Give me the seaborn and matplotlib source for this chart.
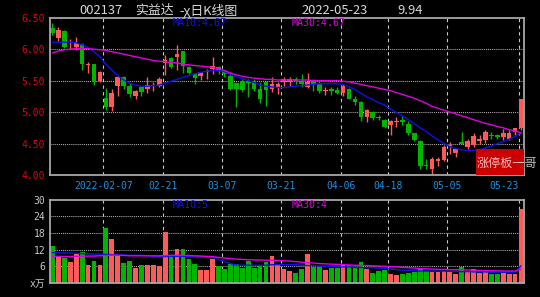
import numpy as np
import pandas as pd
import matplotlib
matplotlib.use('Agg')
import matplotlib.pyplot as plt
import seaborn as sns
from matplotlib.patches import Rectangle

# ---------------- data ----------------
opens = [6.34, 6.17, 6.29, 6.06, 6.04, 6.08, 5.75, 5.76, 5.49, 5.22, 5.08, 5.41, 5.56, 5.42, 5.25, 5.40,
         5.37, 5.42, 5.42, 5.78, 5.86, 5.87, 5.97, 5.72, 5.60, 5.57, 5.64, 5.69, 5.72, 5.63, 5.58, 5.46,
         5.50, 5.50, 5.50, 5.37, 5.48, 5.37, 5.39, 5.48, 5.48, 5.52, 5.50, 5.40, 5.51, 5.45, 5.34, 5.37,
         5.35, 5.30, 5.37, 5.21, 5.16, 4.92, 5.00, 4.92, 4.88, 4.79, 4.85, 4.87, 4.81, 4.66, 4.54, 4.16,
         4.10, 4.23, 4.24, 4.46, 4.35, 4.52, 4.44, 4.47, 4.54, 4.55, 4.64, 4.64, 4.61, 4.58, 4.68, 4.75]
closes = [6.26, 6.30, 6.04, 6.07, 6.10, 5.76, 5.76, 5.48, 5.64, 5.08, 5.30, 5.56, 5.42, 5.28, 5.33, 5.32,
          5.43, 5.43, 5.53, 5.83, 5.72, 5.93, 5.74, 5.62, 5.54, 5.63, 5.66, 5.74, 5.67, 5.61, 5.37, 5.37,
          5.35, 5.46, 5.37, 5.21, 5.35, 5.45, 5.45, 5.53, 5.53, 5.49, 5.45, 5.48, 5.45, 5.33, 5.35, 5.33,
          5.30, 5.42, 5.21, 5.16, 4.92, 5.03, 4.91, 4.91, 4.77, 4.86, 4.86, 4.84, 4.66, 4.55, 4.15, 4.15,
          4.26, 4.26, 4.44, 4.47, 4.42, 4.50, 4.54, 4.62, 4.57, 4.68, 4.62, 4.61, 4.67, 4.66, 4.74, 5.21]
highs = [6.41, 6.36, 6.30, 6.16, 6.19, 6.09, 5.79, 5.77, 5.66, 5.38, 5.37, 5.57, 5.57, 5.46, 5.35, 5.42,
         5.55, 5.48, 5.55, 5.91, 5.88, 6.06, 5.97, 5.73, 5.61, 5.64, 5.68, 5.88, 5.73, 5.65, 5.61, 5.48,
         5.53, 5.53, 5.53, 5.48, 5.50, 5.56, 5.48, 5.56, 5.56, 5.56, 5.60, 5.62, 5.53, 5.50, 5.40, 5.40,
         5.40, 5.45, 5.39, 5.25, 5.17, 5.05, 5.02, 4.96, 4.89, 4.87, 4.92, 4.93, 4.86, 4.67, 4.55, 4.26,
         4.29, 4.29, 4.47, 4.52, 4.43, 4.69, 4.57, 4.66, 4.63, 4.71, 4.68, 4.65, 4.73, 4.71, 4.75, 5.21]
lows = [6.23, 6.13, 6.02, 6.01, 5.98, 5.67, 5.62, 5.43, 5.48, 5.03, 5.02, 5.25, 5.37, 5.24, 5.20, 5.25,
        5.30, 5.34, 5.40, 5.59, 5.70, 5.67, 5.62, 5.60, 5.45, 5.51, 5.52, 5.60, 5.60, 5.55, 5.35, 5.08,
        5.32, 5.24, 5.33, 5.14, 5.09, 5.32, 5.29, 5.42, 5.42, 5.45, 5.40, 5.39, 5.33, 5.30, 5.27, 5.27,
        5.28, 5.25, 5.20, 5.11, 4.86, 4.84, 4.87, 4.88, 4.75, 4.64, 4.77, 4.79, 4.63, 4.54, 4.10, 4.10,
        4.02, 4.15, 4.23, 4.34, 4.28, 4.49, 4.41, 4.44, 4.50, 4.51, 4.58, 4.58, 4.56, 4.55, 4.64, 4.72]
ma10 = [6.11, 6.11, 6.11, 6.11, 6.10, 6.07, 6.02, 5.96, 5.88, 5.76, 5.67, 5.58, 5.51, 5.46, 5.43, 5.41,
        5.41, 5.42, 5.43, 5.46, 5.49, 5.52, 5.55, 5.58, 5.61, 5.63, 5.65, 5.66, 5.66, 5.64, 5.60, 5.56,
        5.53, 5.50, 5.47, 5.43, 5.41, 5.40, 5.39, 5.39, 5.40, 5.41, 5.42, 5.43, 5.44, 5.45, 5.45, 5.45,
        5.45, 5.44, 5.40, 5.36, 5.30, 5.24, 5.20, 5.15, 5.11, 5.05, 4.99, 4.94, 4.88, 4.82, 4.75, 4.69,
        4.62, 4.56, 4.50, 4.45, 4.42, 4.40, 4.39, 4.39, 4.40, 4.43, 4.46, 4.50, 4.53, 4.57, 4.61, 4.67]
ma30 = [5.94, 5.97, 5.99, 6.00, 6.01, 6.01, 6.01, 6.00, 5.99, 5.98, 5.96, 5.94, 5.92, 5.90, 5.88, 5.86,
        5.84, 5.82, 5.81, 5.80, 5.79, 5.78, 5.76, 5.75, 5.74, 5.73, 5.72, 5.71, 5.69, 5.66, 5.62, 5.59,
        5.57, 5.55, 5.54, 5.53, 5.52, 5.52, 5.51, 5.51, 5.51, 5.51, 5.51, 5.51, 5.50, 5.50, 5.50, 5.50,
        5.50, 5.49, 5.48, 5.46, 5.44, 5.42, 5.40, 5.38, 5.36, 5.34, 5.31, 5.28, 5.25, 5.22, 5.18, 5.14,
        5.09, 5.06, 5.03, 5.00, 4.97, 4.94, 4.91, 4.88, 4.85, 4.82, 4.80, 4.77, 4.75, 4.72, 4.70, 4.67]
volumes = [13.5, 9.6, 9.1, 7.6, 10.3, 11.2, 6.4, 7.8, 6.4, 19.9, 15.7, 9.6, 7.2, 7.8, 5.4, 6.4,
           6.6, 6.4, 6.1, 18.4, 9.6, 12.4, 12.1, 8.5, 6.7, 4.6, 4.6, 8.8, 6.0, 5.2, 6.7, 7.0,
           5.5, 7.9, 5.5, 6.4, 7.6, 9.6, 6.4, 4.9, 4.2, 3.6, 5.2, 10.3, 5.8, 6.0, 4.6, 5.5,
           5.5, 6.6, 6.4, 5.5, 7.6, 5.2, 3.6, 4.3, 4.6, 3.4, 3.0, 3.4, 3.6, 4.0, 5.5, 4.5,
           4.0, 4.0, 4.3, 4.0, 3.4, 5.8, 4.0, 5.2, 3.6, 4.0, 3.1, 3.1, 3.6, 3.4, 3.4, 26.8]
vol_ma10 = [10.9, 10.9, 10.8, 10.8, 10.7, 10.6, 10.5, 10.4, 10.4, 10.3, 10.2, 10.1, 10.1, 10.0, 10.0, 10.0,
            9.8, 9.6, 9.5, 9.5, 9.6, 9.6, 9.6, 9.5, 9.4, 9.4, 9.4, 9.3, 8.5, 7.7, 7.0, 6.5,
            6.4, 6.4, 6.4, 6.4, 6.4, 6.6, 6.6, 6.6, 6.6, 6.6, 6.4, 6.3, 6.2, 6.1, 6.0, 5.9,
            5.8, 5.8, 5.8, 5.7, 5.6, 5.5, 5.5, 5.4, 5.2, 5.0, 4.8, 4.6, 4.5, 4.4, 4.3, 4.3,
            4.3, 4.3, 4.3, 4.2, 4.2, 4.1, 4.1, 4.0, 4.0, 4.0, 3.9, 3.9, 3.9, 3.9, 3.9, 6.2]
vol_ma30 = [9.6, 9.6, 9.5, 9.5, 9.6, 9.6, 9.7, 9.7, 9.8, 9.9, 10.0, 10.0, 9.9, 9.8, 9.8, 9.8,
            9.8, 9.8, 9.8, 9.9, 10.0, 10.0, 10.0, 9.9, 9.8, 9.7, 9.6, 9.5, 9.2, 9.0, 8.8, 8.6,
            8.5, 8.4, 8.3, 8.3, 8.2, 8.2, 8.1, 8.0, 7.9, 7.7, 7.5, 7.3, 7.2, 7.0, 6.9, 6.8,
            6.7, 6.6, 6.5, 6.4, 6.3, 6.3, 6.2, 6.1, 6.0, 5.9, 5.8, 5.6, 5.5, 5.4, 5.2, 5.1,
            5.0, 4.9, 4.9, 4.8, 4.8, 4.7, 4.7, 4.6, 4.5, 4.5, 4.4, 4.4, 4.3, 4.3, 4.3, 5.0]
date_tick_pos = [9, 19, 29, 39, 49, 57, 67, 79]
date_tick_labels = ['2022-02-07', '02-21', '03-07', '03-21', '04-06', '04-18', '05-05', '05-23']
price_ticks = [4.0, 4.5, 5.0, 5.5, 6.0, 6.5]
vol_ticks = [0, 6, 12, 18, 24, 30]
vol_tick_labels = ['x万', '6', '12', '18', '24', '30']

# ---------------- style ----------------
RED = '#ff5a5a'
GREEN = '#00b400'
BLUE = '#1010f0'
MAG = '#e000e0'
FRAME = '#a8a8a8'

sns.set_style('dark', {'axes.facecolor': 'black', 'figure.facecolor': 'black',
                       'axes.edgecolor': FRAME, 'grid.color': 'black'})
plt.rcParams['font.family'] = ['DejaVu Sans Mono', 'Noto Sans CJK SC']

W, H = 540, 297
fig = plt.figure(figsize=(W / 100, H / 100), dpi=100, facecolor='black')


def fx(x):
    return x / W


def fy(y):
    return 1 - y / H


ax = fig.add_axes([fx(50), fy(175), fx(524) - fx(50), fy(17.7) - fy(175)])
axv = fig.add_axes([fx(50), fy(283), fx(524) - fx(50), fy(199.7) - fy(283)])

df = pd.DataFrame({'i': np.arange(len(closes)), 'open': opens, 'close': closes,
                   'high': highs, 'low': lows, 'ma10': ma10, 'ma30': ma30,
                   'vol': volumes, 'vma10': vol_ma10, 'vma30': vol_ma30})
df['dir'] = np.where(df['close'] >= df['open'], 'up', 'down')
cols = df['dir'].map({'up': RED, 'down': GREEN})

# ---------------- price panel ----------------
for a in (ax, axv):
    a.set_facecolor('black')
    for s in a.spines.values():
        s.set_color(FRAME)
        s.set_linewidth(1.3)
    a.grid(False)

for y in [4.5, 5.0, 5.5, 6.0]:
    ax.axhline(y, color='#b0b0b0', lw=0.75, ls=(0, (1, 1)), zorder=0.5)
for p in date_tick_pos:
    ax.axvline(p - 0.4, color='#c8c8c8', lw=0.8, ls=(0, (3, 3)), zorder=0.5)
    axv.axvline(p - 0.4, color='#c8c8c8', lw=0.8, ls=(0, (3, 3)), zorder=0.5)

ax.vlines(df['i'], df['low'], df['high'], colors=cols, lw=1, zorder=2)
body_lo = np.minimum(df['open'], df['close'])
body_h = np.maximum(np.abs(df['close'] - df['open']), 0.012)
ax.bar(df['i'], body_h, bottom=body_lo, width=0.78, color=cols, linewidth=0, zorder=2.5)

sns.lineplot(data=df, x='i', y='ma10', ax=ax, color=BLUE, lw=1, zorder=3)
sns.lineplot(data=df, x='i', y='ma30', ax=ax, color=MAG, lw=1, zorder=3)

ax.set_xlim(-0.42, 79.5)
ax.set_ylim(4.0, 6.5)
ax.set_yticks(price_ticks)
ax.set_yticklabels(['%.2f' % v for v in price_ticks], color='#e60000', fontsize=7)
ax.set_xticks([p - 0.4 for p in date_tick_pos])
ax.set_xticklabels(date_tick_labels, color='#2090e0', fontsize=7)
ax.get_xticklabels()[-1].set_ha('right')
ax.tick_params(axis='both', length=0, pad=3.5)
ax.tick_params(axis='x', pad=4)
ax.set_xlabel('')
ax.set_ylabel('')

# ---------------- volume panel ----------------
for y in [6, 12, 18, 24]:
    axv.axhline(y, color='#b0b0b0', lw=0.75, ls=(0, (1, 1)), zorder=0.5)
sns.barplot(data=df, x='i', y='vol', hue='dir', palette={'up': RED, 'down': GREEN},
            native_scale=True, dodge=False, legend=False, width=0.8, saturation=1,
            linewidth=0, ax=axv, zorder=2)
sns.lineplot(data=df, x='i', y='vma10', ax=axv, color=BLUE, lw=1, zorder=3)
sns.lineplot(data=df, x='i', y='vma30', ax=axv, color=MAG, lw=1, zorder=3)
axv.set_xlim(-0.42, 79.5)
axv.set_ylim(0, 30)
axv.set_yticks(vol_ticks)
axv.set_yticklabels(vol_tick_labels, color='#c8c8c8', fontsize=7)
axv.set_xticks([])
axv.tick_params(axis='both', length=0, pad=3.5)
axv.set_xlabel('')
axv.set_ylabel('')

# ---------------- texts ----------------
tfam = ['Noto Sans CJK SC', 'DejaVu Sans']
tc = '#d8d8d8'
fig.text(fx(79), fy(10.5), '002137', color=tc, fontsize=9.3, family=tfam, va='center')
fig.text(fx(135), fy(10.5), '实益达', color=tc, fontsize=9.3, family=tfam, va='center')
fig.text(fx(179), fy(10.5), '-χ日K线图', color=tc, fontsize=9.3, family=tfam, va='center')
fig.text(fx(301.5), fy(10.5), '2022-05-23', color=tc, fontsize=9.3, family=tfam, va='center')
fig.text(fx(397.5), fy(10.5), '9.94', color=tc, fontsize=9.3, family=tfam, va='center')

fig.text(fx(172.5), fy(23), 'MA10:4.67', color=BLUE, fontsize=7.2, va='center')
fig.text(fx(291.5), fy(23), 'MA30:4.67', color=MAG, fontsize=7.2, va='center')
fig.text(fx(172.5), fy(204.5), 'MA10:5', color=BLUE, fontsize=7.2, va='center')
fig.text(fx(291.5), fy(204.5), 'MA30:4', color=MAG, fontsize=7.2, va='center')

rect = Rectangle((fx(475.7), fy(175)), fx(524) - fx(475.7), fy(149.3) - fy(175),
                 transform=fig.transFigure, facecolor='#cc0000', edgecolor='none', zorder=10)
fig.add_artist(rect)
fig.text(fx(476.5), fy(163), '涨停板一哥', color='white', alpha=0.75, fontsize=8.7,
         family=tfam, va='center', zorder=11)

fig.savefig('out.png', dpi=100, facecolor='black')
